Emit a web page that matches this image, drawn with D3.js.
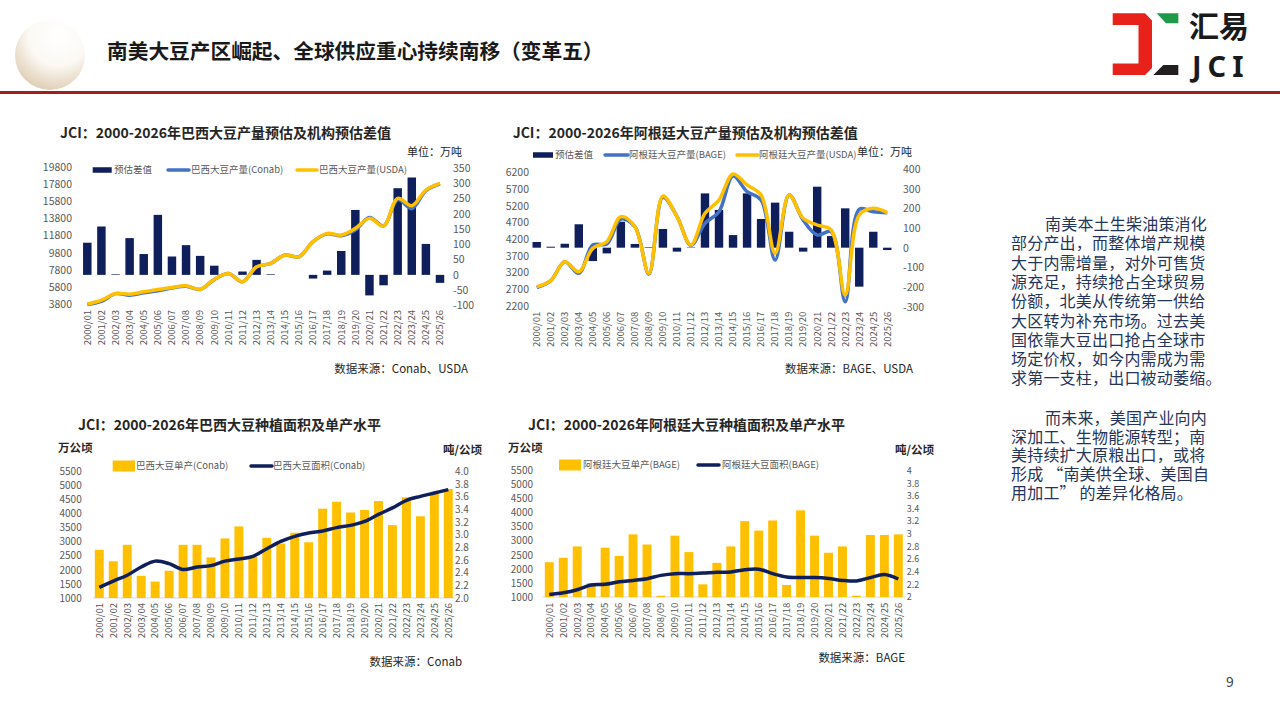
<!DOCTYPE html>
<html>
<head>
<meta charset="utf-8">
<script src="https://cdn.jsdelivr.net/npm/d3@7"></script>
<style>
  body { margin: 0; background: #fff; }
  svg { display: block; font-family: "Noto Sans CJK SC", "Noto Sans", sans-serif; }
</style>
</head>
<body>
<svg id="slide" width="1280" height="720"></svg>
<script>
// ---- data ----
const seasons = ["2000/01", "2001/02", "2002/03", "2003/04", "2004/05", "2005/06", "2006/07", "2007/08",
    "2008/09", "2009/10", "2010/11", "2011/12", "2012/13", "2013/14", "2014/15", "2015/16", "2016/17",
    "2017/18", "2018/19", "2019/20", "2020/21", "2021/22", "2022/23", "2023/24", "2024/25", "2025/26"];

// Brazil production (万吨) and estimate gap
const brDiff = [105, 158, 2, 120, 68, 196, 60, 97, 62, 30, 0, 11, 49, 2, 0, 0, -12, 14, 78, 212, -67, -34, 283, 318, 101, -26];
const brConab = [3800, 4150, 5060, 4880, 5150, 5400, 5720, 5930, 5540, 6690, 7410, 6440, 8150, 8570, 9540, 9340,
    11100, 12000, 11790, 12460, 13900, 12930, 15970, 14920, 17020, 17820];
const brUsda = [3840, 4300, 5080, 5000, 5270, 5540, 5780, 5970, 5580, 6710, 7400, 6440, 8180, 8570, 9540, 9340,
    11090, 12060, 11860, 12640, 13800, 12910, 16120, 15270, 17090, 17870];
const brProdTicks = [3800, 5800, 7800, 9800, 11800, 13800, 15800, 17800, 19800];
const brDiffTicks = [-100, -50, 0, 50, 100, 150, 200, 250, 300, 350];

// Argentina production (万吨) and estimate gap
const arDiff = [29, 5, 20, 119, -68, -29, 132, 19, 3, 95, -20, 2, 276, 192, 64, 276, 146, 229, 81, -20, 310, 59, 200, -198, 81, -12];
const arBage = [2740, 2950, 3520, 3170, 4020, 4050, 4800, 4570, 3150, 5450, 4880, 4010, 4670, 5020, 6090, 5620,
    5370, 3570, 5520, 4770, 4320, 4420, 2320, 5090, 5020, 4990];
const arUsda = [2770, 2950, 3520, 3220, 3920, 4120, 4870, 4570, 3170, 5490, 4870, 4020, 4970, 5370, 6150, 5820,
    5520, 3770, 5520, 4820, 4620, 4470, 2520, 4920, 5120, 4990];
const arProdTicks = [2200, 2700, 3200, 3700, 4200, 4700, 5200, 5700, 6200];
const arDiffTicks = [-300, -200, -100, 0, 100, 200, 300, 400];

// Brazil yield (吨/公顷) and area (万公顷)
const brYield = [2.76, 2.58, 2.84, 2.35, 2.26, 2.43, 2.84, 2.84, 2.64, 2.94, 3.13, 2.65, 2.95, 2.86, 3.03, 2.88,
    3.41, 3.52, 3.35, 3.39, 3.53, 3.15, 3.59, 3.29, 3.65, 3.72];
const brArea = [1380, 1600, 1810, 2100, 2310, 2220, 2010, 2100, 2150, 2310, 2385, 2480, 2750, 3010, 3190, 3310,
    3380, 3500, 3580, 3720, 3970, 4200, 4470, 4610, 4730, 4850];

// Argentina yield (吨/公顷) and area (万公顷)
const arYield = [2.55, 2.62, 2.80, 2.22, 2.78, 2.65, 2.99, 2.83, 2.02, 2.97, 2.71, 2.20, 2.54, 2.80, 3.20, 3.05,
    3.21, 2.19, 3.37, 2.97, 2.70, 2.80, 2.02, 2.98, 2.98, 2.99];
const arArea = [1090, 1150, 1260, 1430, 1450, 1540, 1590, 1650, 1770, 1830, 1830, 1850, 1880, 1890, 1970, 1990,
    1830, 1710, 1690, 1690, 1660, 1590, 1570, 1690, 1800, 1640];

const areaTicks = [1000, 1500, 2000, 2500, 3000, 3500, 4000, 4500, 5000, 5500];
const yieldTicks = [2.0, 2.2, 2.4, 2.6, 2.8, 3.0, 3.2, 3.4, 3.6, 3.8, 4.0];

const notePara1 = ["南美本土生柴油策消化", "部分产出，而整体增产规模", "大于内需增量，对外可售货", "源充足，持续抢占全球贸易",
    "份额，北美从传统第一供给", "大区转为补充市场。过去美", "国依靠大豆出口抢占全球市", "场定价权，如今内需成为需",
    "求第一支柱，出口被动萎缩。"];
const notePara2 = ["而未来，美国产业向内", "深加工、生物能源转型；南", "美持续扩大原粮出口，或将",
    "形成 “南美供全球、美国自", "用加工” 的差异化格局。"];

const NAVY = "#0e1f5b";
const YELLOW = "#ffc000";
const BLUE = "#4472c4";
const GREY = "#595959";

const svg = d3.select("#slide");

/**
 * Slide frame: egg, heading, red rule, logo, notes, page number
 */
function frame() {
    const defs = svg.append("defs");
    const grad = defs.append("radialGradient").attr("id", "egg")
        .attr("cx", "62%").attr("cy", "22%").attr("r", "85%");
    grad.append("stop").attr("offset", "0%").attr("stop-color", "#ffffff");
    grad.append("stop").attr("offset", "50%").attr("stop-color", "#fcf9f4");
    grad.append("stop").attr("offset", "100%").attr("stop-color", "#dcc9ad");

    svg.append("circle")
        .attr("cx", 50).attr("cy", 55).attr("r", 35)
        .attr("fill", "url(#egg)");

    svg.append("text")
        .attr("x", 107).attr("y", 59)
        .style("font-size", "20.7px").style("font-weight", "bold")
        .attr("fill", "#1a1a1a")
        .text("南美大豆产区崛起、全球供应重心持续南移（变革五）");

    svg.append("rect")
        .attr("x", 0).attr("y", 91).attr("width", 1280).attr("height", 3)
        .attr("fill", "#a51d1d");

    // logo
    svg.append("polygon")
        .attr("points", "1112.7,13.3 1145,13.3 1152,20.5 1152,68 1145,75 1112.7,75 1112.7,63.5 1138.5,63.5 1138.5,25 1112.7,25")
        .attr("fill", "#e8211b");
    svg.append("polygon")
        .attr("points", "1156.7,13.3 1178.3,13.3 1178.3,23.3 1166,23.3")
        .attr("fill", "#1f9a48");
    svg.append("polygon")
        .attr("points", "1163.3,65 1178.3,65 1178.3,75 1153.3,75")
        .attr("fill", "#231f20");
    svg.append("text")
        .attr("x", 1189).attr("y", 37)
        .style("font-size", "30px").style("font-weight", "bold")
        .attr("fill", "#1a1a1a")
        .text("汇易");
    svg.append("text")
        .attr("x", 1192).attr("y", 77)
        .style("font-family", "'Noto Sans', sans-serif")
        .style("font-size", "29px").style("font-weight", "bold")
        .style("letter-spacing", "6px")
        .attr("fill", "#1a1a1a")
        .text("JCI");

    // notes on the right
    const note = svg.append("g")
        .style("font-size", "16px")
        .style("letter-spacing", "0.2px")
        .attr("fill", "#25355a");
    note.selectAll(".p1").data(notePara1).enter().append("text")
        .attr("x", (d, i) => i === 0 ? 1045 : 1011)
        .attr("y", (d, i) => 230 + i * 19.3)
        .text(d => d);
    note.selectAll(".p2").data(notePara2).enter().append("text")
        .attr("x", (d, i) => i === 0 ? 1045 : 1011)
        .attr("y", (d, i) => 424 + i * 18.7)
        .text(d => d);

    svg.append("text")
        .attr("x", 1230).attr("y", 687)
        .attr("text-anchor", "middle")
        .style("font-size", "14px")
        .attr("fill", "#404040")
        .text("9");
}

/**
 * Shared axis styling: no domain, no tick marks
 */
function plainAxis(sel, size) {
    sel.select(".domain").remove();
    sel.attr("font-family", null).attr("font-size", null);
    sel.selectAll("text").attr("fill", GREY).style("font-size", size + "px");
}

function xLabels(g, x, top) {
    g.append("g")
        .attr("transform", `translate(0,${top})`)
        .call(d3.axisBottom(x).tickSize(0).tickPadding(0))
        .call(a => plainAxis(a, 9.5))
        .selectAll("text")
        .attr("transform", "rotate(-90)")
        .attr("x", 0).attr("y", 0)
        .attr("dy", "0.35em")
        .attr("text-anchor", "end");
}

function legend(g, y, items) {
    items.forEach(it => {
        if (it.kind === "rect") {
            g.append("rect")
                .attr("x", it.x).attr("y", y - it.h / 2)
                .attr("width", it.w).attr("height", it.h)
                .attr("fill", it.color);
        } else {
            g.append("line")
                .attr("x1", it.x).attr("x2", it.x + it.w)
                .attr("y1", y).attr("y2", y)
                .attr("stroke", it.color).attr("stroke-width", 3.5)
                .attr("stroke-linecap", "round");
        }
        g.append("text")
            .attr("x", it.tx).attr("y", y)
            .attr("dy", "0.35em")
            .style("font-size", "9.5px")
            .attr("fill", GREY)
            .text(it.text);
    });
}

function caption(g, text, x, y, size, weight, anchor) {
    g.append("text")
        .attr("x", x).attr("y", y)
        .attr("text-anchor", anchor || "start")
        .style("font-size", size + "px")
        .style("font-weight", weight || "normal")
        .attr("fill", "#262626")
        .text(text);
}

/**
 * Production chart: gap bars (right axis) + two smoothed production lines (left axis)
 */
function productionChart(o) {
    const g = svg.append("g");

    const x = d3.scaleBand().domain(seasons).range(o.xRange)
        .paddingInner(0.4).paddingOuter(0.2);
    const yL = d3.scaleLinear().domain(d3.extent(o.leftTicks)).range(o.yRangeL);
    const yR = d3.scaleLinear().domain(d3.extent(o.rightTicks)).range(o.yRangeR);
    const cx = i => x(seasons[i]) + x.bandwidth() / 2;

    g.selectAll(".bar")
        .data(o.diff)
        .enter().append("rect")
        .attr("class", "bar")
        .attr("x", (d, i) => x(seasons[i]))
        .attr("width", x.bandwidth())
        .attr("y", d => yR(Math.max(0, d)))
        .attr("height", d => Math.abs(yR(d) - yR(0)))
        .attr("fill", NAVY);

    const line = d3.line()
        .x((d, i) => cx(i))
        .y(d => yL(d))
        .curve(d3.curveCatmullRom);

    g.append("path").datum(o.lineA)
        .attr("d", line).attr("fill", "none")
        .attr("stroke", BLUE).attr("stroke-width", 3.5);
    g.append("path").datum(o.lineB)
        .attr("d", line).attr("fill", "none")
        .attr("stroke", YELLOW).attr("stroke-width", 3.5);

    g.append("g")
        .attr("transform", `translate(${o.leftX},0)`)
        .call(d3.axisLeft(yL).tickValues(o.leftTicks).tickSize(0).tickPadding(0).tickFormat(d => String(d)))
        .call(a => plainAxis(a, o.tickSize));
    g.append("g")
        .attr("transform", `translate(${o.rightX},0)`)
        .call(d3.axisRight(yR).tickValues(o.rightTicks).tickSize(0).tickPadding(0).tickFormat(d => String(d)))
        .call(a => plainAxis(a, o.tickSize));

    xLabels(g, x, o.xLabelTop);

    caption(g, o.title, o.titleX, 138, 14, "bold");
    caption(g, "单位：万吨", o.unitX, 156, 11, "normal", "end");
    caption(g, o.source, o.sourceX, 373, 11.5, "normal", "end");
    legend(g, o.legendY, o.legend);
}

/**
 * Area/yield chart: yield bars (right axis) + area line (left axis)
 */
function areaChart(o) {
    const g = svg.append("g");

    const x = d3.scaleBand().domain(seasons).range(o.xRange)
        .paddingInner(0.36).paddingOuter(0.18);
    const yL = d3.scaleLinear().domain(d3.extent(areaTicks)).range(o.yRange);
    const yR = d3.scaleLinear().domain(d3.extent(yieldTicks)).range(o.yRange);
    const cx = i => x(seasons[i]) + x.bandwidth() / 2;

    g.append("line")
        .attr("x1", o.xRange[0]).attr("x2", o.xRange[1])
        .attr("y1", o.yRange[0]).attr("y2", o.yRange[0])
        .attr("stroke", "#d9d9d9").attr("stroke-width", 1);

    g.selectAll(".bar")
        .data(o.yield)
        .enter().append("rect")
        .attr("class", "bar")
        .attr("x", (d, i) => x(seasons[i]))
        .attr("width", x.bandwidth())
        .attr("y", d => yR(d))
        .attr("height", d => yR(2) - yR(d))
        .attr("fill", YELLOW);

    const line = d3.line()
        .x((d, i) => cx(i))
        .y(d => yL(d))
        .curve(d3.curveCatmullRom);
    g.append("path").datum(o.area)
        .attr("d", line).attr("fill", "none")
        .attr("stroke", NAVY).attr("stroke-width", 3.5);

    g.append("g")
        .attr("transform", `translate(${o.leftX},0)`)
        .call(d3.axisLeft(yL).tickValues(areaTicks).tickSize(0).tickPadding(0).tickFormat(d => String(d)))
        .call(a => plainAxis(a, 10));
    g.append("g")
        .attr("transform", `translate(${o.rightX},0)`)
        .call(d3.axisRight(yR).tickValues(yieldTicks).tickSize(0).tickPadding(0).tickFormat(o.rightFormat))
        .call(a => plainAxis(a, o.rightSize));

    xLabels(g, x, o.xLabelTop);

    caption(g, o.title, o.titleX, 430, 14, "bold");
    caption(g, "万公顷", o.unitLX, 452, 11.5, "bold");
    caption(g, "吨/公顷", o.unitRX, 454, 11.5, "bold");
    caption(g, o.source, o.sourceX, o.sourceY, 11.5, "normal", "end");
    legend(g, o.legendY, o.legend);
}

frame();

productionChart({
    title: "JCI：2000-2026年巴西大豆产量预估及机构预估差值", titleX: 60,
    unitX: 462, source: "数据来源：Conab、USDA", sourceX: 468,
    xRange: [80.25, 447.05], yRangeL: [304.5, 166.7], yRangeR: [305.5, 167.7],
    leftTicks: brProdTicks, rightTicks: brDiffTicks, leftX: 72, rightX: 453, tickSize: 10.5,
    diff: brDiff, lineA: brConab, lineB: brUsda, xLabelTop: 310,
    legendY: 170,
    legend: [
        { kind: "rect", x: 92.7, w: 19, h: 5.5, color: NAVY, tx: 114, text: "预估差值" },
        { kind: "line", x: 168, w: 21, color: BLUE, tx: 191, text: "巴西大豆产量(Conab)" },
        { kind: "line", x: 297, w: 20, color: YELLOW, tx: 319, text: "巴西大豆产量(USDA)" }
    ]
});

productionChart({
    title: "JCI：2000-2026年阿根廷大豆产量预估及机构预估差值", titleX: 512.7,
    unitX: 912, source: "数据来源：BAGE、USDA", sourceX: 913,
    xRange: [529.7, 894.3], yRangeL: [305.7, 172.3], yRangeR: [306.7, 169],
    leftTicks: arProdTicks, rightTicks: arDiffTicks, leftX: 529, rightX: 903, tickSize: 10.5,
    diff: arDiff, lineA: arBage, lineB: arUsda, xLabelTop: 311.7,
    legendY: 155,
    legend: [
        { kind: "rect", x: 533, w: 20, h: 5.5, color: NAVY, tx: 555, text: "预估差值" },
        { kind: "line", x: 605, w: 23, color: BLUE, tx: 629, text: "阿根廷大豆产量(BAGE)" },
        { kind: "line", x: 737, w: 21, color: YELLOW, tx: 759, text: "阿根廷大豆产量(USDA)" }
    ]
});

areaChart({
    title: "JCI：2000-2026年巴西大豆种植面积及单产水平", titleX: 78,
    unitLX: 58, unitRX: 443, source: "数据来源：Conab", sourceX: 462, sourceY: 666,
    xRange: [92.32, 455.28], yRange: [598, 471.3],
    leftX: 81.7, rightX: 455, rightFormat: d3.format(".1f"), rightSize: 10,
    yield: brYield, area: brArea, xLabelTop: 603,
    legendY: 466,
    legend: [
        { kind: "rect", x: 112.7, w: 22.3, h: 11, color: YELLOW, tx: 136, text: "巴西大豆单产(Conab)" },
        { kind: "line", x: 251, w: 21, color: NAVY, tx: 273, text: "巴西大豆面积(Conab)" }
    ]
});

areaChart({
    title: "JCI：2000-2026年阿根廷大豆种植面积及单产水平", titleX: 528,
    unitLX: 508, unitRX: 895, source: "数据来源：BAGE", sourceX: 905, sourceY: 662,
    xRange: [542.3, 905.3], yRange: [597, 470.5],
    leftX: 533, rightX: 906.7, rightFormat: d => String(+d.toFixed(1)), rightSize: 9,
    yield: arYield, area: arArea, xLabelTop: 602.7,
    legendY: 465,
    legend: [
        { kind: "rect", x: 559, w: 22, h: 11, color: YELLOW, tx: 583, text: "阿根廷大豆单产(BAGE)" },
        { kind: "line", x: 698, w: 21, color: NAVY, tx: 722, text: "阿根廷大豆面积(BAGE)" }
    ]
});
</script>
</body>
</html>
